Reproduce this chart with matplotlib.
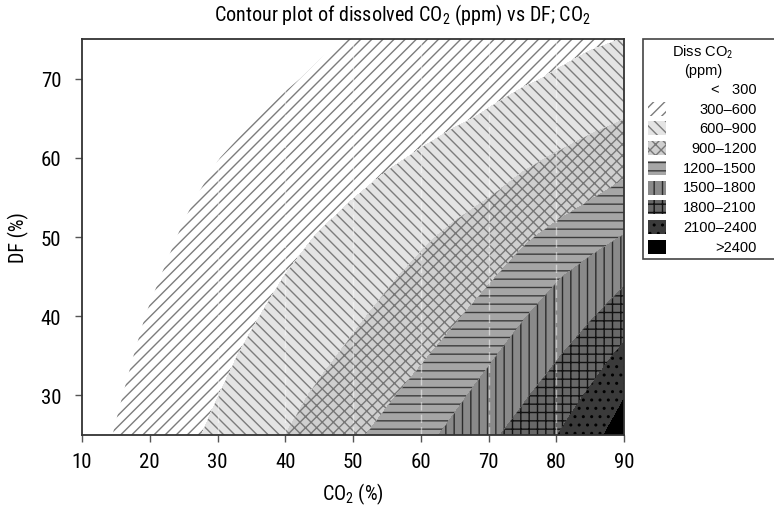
"""
Contour plot of dissolved CO2 (ppm) against DF (%) and CO2 (%),
drawn as hatched grey bands in the style of a Minitab contour plot.
"""
import matplotlib
matplotlib.use('Agg')
import matplotlib.pyplot as plt
from matplotlib.patches import Rectangle

# grid: CO2 (%) across, DF (%) up
CO2_PCT = [10, 15, 20, 25, 30, 35, 40, 45, 50, 55, 60, 65, 70, 75, 80, 85, 90]
DF_PCT = [25, 30, 35, 40, 45, 50, 55, 60, 65, 70, 75]

# dissolved CO2 (ppm), one row per DF value
DISS_CO2 = [
    [198, 311, 425, 539, 656, 778, 900, 1025, 1150, 1283, 1420, 1571, 1739, 1914, 2093, 2297, 2550],
    [173, 279, 385, 490, 596, 710, 824, 938, 1051, 1164, 1298, 1442, 1598, 1761, 1942, 2139, 2385],
    [152, 249, 347, 444, 542, 641, 743, 845, 950, 1059, 1167, 1308, 1463, 1619, 1775, 1966, 2171],
    [136, 224, 312, 401, 489, 577, 670, 765, 860, 960, 1065, 1169, 1315, 1480, 1628, 1774, 1961],
    [109, 191, 274, 356, 438, 521, 604, 692, 780, 868, 965, 1066, 1168, 1311, 1474, 1612, 1745],
    [93, 167, 241, 315, 389, 463, 536, 612, 694, 777, 860, 953, 1056, 1159, 1273, 1394, 1515],
    [86, 149, 213, 277, 341, 405, 469, 532, 596, 671, 746, 822, 897, 992, 1088, 1185, 1293],
    [81, 134, 188, 242, 296, 349, 403, 457, 511, 565, 625, 699, 773, 847, 923, 1005, 1087],
    [59, 106, 152, 199, 245, 292, 338, 385, 431, 477, 524, 570, 624, 692, 759, 827, 894],
    [32, 74, 116, 157, 199, 240, 282, 323, 365, 406, 448, 489, 531, 573, 621, 684, 746],
    [19, 55, 92, 128, 165, 201, 238, 274, 311, 347, 384, 420, 457, 493, 530, 566, 603],
]

LEVELS = [300, 600, 900, 1200, 1500, 1800, 2100, 2400, 5000]
LEGEND_LABELS = ['<   300', '300–600', '600–900', '900–1200', '1200–1500',
                 '1500–1800', '1800–2100', '2100–2400', '>2400']

# face colour, hatch, hatch colour for each band above 300
BAND_STYLES = [
    ('white', '///', '#7c7c7c'),
    ('#e4e4e4', '\\\\\\', '#7c7c7c'),
    ('#cfcfcf', 'xxx', '#777777'),
    ('#a6a6a6', '--', '#3c3c3c'),
    ('#8a8a8a', '||', '#2c2c2c'),
    ('#686868', '++', '#111111'),
    ('#3a3a3a', '..', '#000000'),
    ('#000000', None, '#000000'),
]

W, H = 774, 506
NARROW = ['Roboto Condensed', 'DejaVu Sans']
REGULAR = ['Liberation Sans', 'DejaVu Sans']


def plot_contours(ax):
    '''
    Fills each band between two levels with its own grey and hatch.
    '''
    for i, (fc, hatch, hc) in enumerate(BAND_STYLES):
        with plt.rc_context({'hatch.color': hc}):
            ax.contourf(CO2_PCT, DF_PCT, DISS_CO2,
                        levels=[LEVELS[i], LEVELS[i + 1]],
                        colors=[fc], hatches=[hatch])
    # faint white seams of the original rendering
    for xv in range(30, 90, 10):
        ax.axvline(xv, color='white', lw=1, alpha=0.5, ls=(0, (6, 3)))
    ax.set_xlim(10, 90)
    ax.set_ylim(25, 75)
    ax.set_xticks(range(10, 91, 10))
    ax.set_yticks(range(30, 71, 10))
    ax.tick_params(labelsize=15, length=5, width=1, color='#555555')
    ax.tick_params(axis='x', pad=7)
    ax.tick_params(axis='y', pad=10)
    for s in ax.spines.values():
        s.set_color('#333333')
        s.set_linewidth(1.3)
    ax.set_xlabel('CO$_2$ (%)', fontsize=14.5, labelpad=7)
    ax.set_ylabel('DF (%)', fontsize=14.5, labelpad=8)


def plot_legend(fig):
    '''
    Draws the boxed key at the right with a swatch for every band.
    '''
    fig.add_artist(Rectangle((643 / W, 1 - 260 / H), 140 / W, 220 / H,
                             transform=fig.transFigure, fc='white',
                             ec='#444444', lw=1.2))
    fig.text(703 / W, 1 - 52 / H, 'Diss CO$_2$', ha='center', va='center',
             fontsize=10.5, family=REGULAR)
    fig.text(703 / W, 1 - 71 / H, '(ppm)', ha='center', va='center',
             fontsize=10.5, family=REGULAR)
    for i, lab in enumerate(LEGEND_LABELS):
        yc = 90 + i * 19.7
        fig.text(757 / W, 1 - yc / H, lab, ha='right', va='center',
                 fontsize=10.5, family=REGULAR)
        if i == 0:
            continue
        fc, hatch, hc = BAND_STYLES[i - 1]
        fig.add_artist(Rectangle((648 / W, 1 - (yc + 7) / H), 18 / W, 14 / H,
                                 transform=fig.transFigure, fc=fc, ec=hc,
                                 lw=0, hatch=hatch))


def main():
    plt.rcParams['font.family'] = NARROW
    plt.rcParams['mathtext.fontset'] = 'custom'
    plt.rcParams['mathtext.rm'] = 'Roboto Condensed'
    plt.rcParams['mathtext.default'] = 'rm'
    plt.rcParams['hatch.linewidth'] = 1.0

    fig = plt.figure(figsize=(W / 100, H / 100), dpi=100)
    ax = fig.add_axes([82 / W, 1 - 436 / H, 542 / W, 396 / H])
    plot_contours(ax)
    plot_legend(fig)
    fig.text(402 / W, 1 - 15 / H,
             'Contour plot of dissolved CO$_2$ (ppm) vs DF; CO$_2$',
             ha='center', va='center', fontsize=14.5)
    fig.savefig('out.png', dpi=100)


if __name__ == '__main__':
    main()
